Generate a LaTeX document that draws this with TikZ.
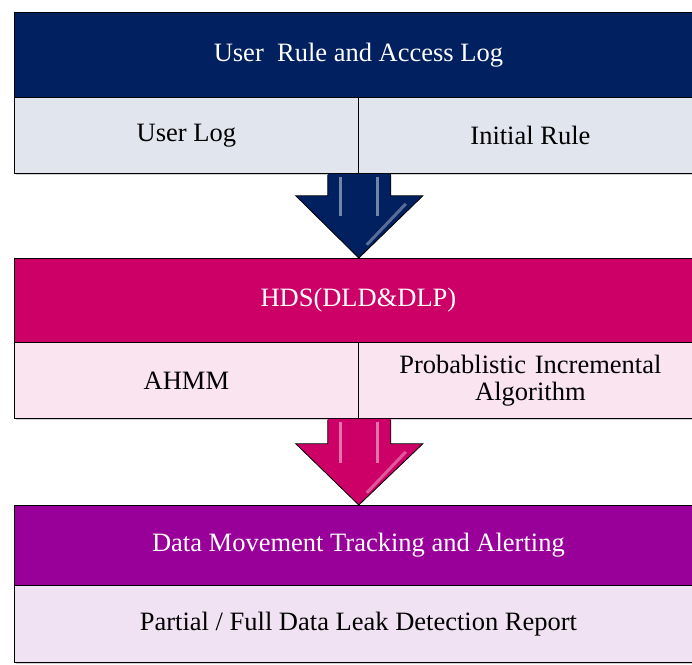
\documentclass[tikz,border=0pt]{standalone}
\usepackage{fontspec}
\setmainfont{Liberation Serif}
\usetikzlibrary{shadows,calc}
\definecolor{navy}{RGB}{0,32,96}
\definecolor{navylt}{RGB}{225,229,238}
\definecolor{pinkh}{RGB}{204,0,102}
\definecolor{pinklt}{RGB}{250,228,240}
\definecolor{purph}{RGB}{153,0,153}
\definecolor{purplt}{RGB}{240,226,242}
\begin{document}
\begin{tikzpicture}[x=1pt,y=-1pt,
  boxbase/.style={rectangle, draw=black, line width=0.8pt, inner sep=0pt, anchor=north west,
     drop shadow={shadow xshift=1.5pt, shadow yshift=-2pt, opacity=0.35}},
  hdr/.style={boxbase, minimum width=688pt, minimum height=85pt, text=white,
     font=\fontsize{26.5}{30}\selectfont},
  sub/.style={boxbase, minimum width=344pt, minimum height=76pt, text=black,
     font=\fontsize{26.5}{30}\selectfont, align=center},
  subwide/.style={boxbase, minimum width=688pt, minimum height=77pt, text=black,
     font=\fontsize{26.5}{30}\selectfont},
  bigarrow/.style={draw=black, line width=0.8pt, line join=miter},
  gloss/.style={white, opacity=0.45, line width=3pt}
]
\useasboundingbox (0,0) rectangle (692,664);
\clip (0,0) rectangle (692,664);
\fill[white] (0,0) rectangle (692,664);

% box 1
\node[hdr, fill=navy] (h1) at (14,12) {User\ \ Rule and Access Log};
\node[sub, fill=navylt] (a1) at (14,97) {User Log};
\node[sub, fill=navylt] (b1) at (358,97) {Initial Rule};

% box 2
\node[hdr, fill=pinkh, minimum height=84pt] (h2) at (14,258) {HDS(DLD\&DLP)};
\node[sub, fill=pinklt] (a2) at (14,342) {AHMM};
\node[sub, fill=pinklt, text width=330pt] (b2) at (358,342) {Probablistic Incremental\\[-3pt]Algorithm};

% box 3
\node[hdr, fill=purph, minimum height=80pt] (h3) at (14,505) {Data Movement Tracking and Alerting};
\node[subwide, fill=purplt] (a3) at (14,585) {Partial / Full Data Leak Detection Report};

% arrow 1 : from box 1 to box 2
\coordinate (s1) at (a1.south east);
\coordinate (e1) at (h2.north west -| s1);
\fill[navy] ($(s1)+(-31,0)$) -- ($(s1)+(32,0)$) -- ($(s1)+(32,22)$) -- ($(s1)+(64,22)$) -- (e1)
   -- ($(s1)+(-63,22)$) -- ($(s1)+(-31,22)$) -- cycle;
\draw[bigarrow] ($(s1)+(-31,1)$) -- ($(s1)+(-31,22)$) -- ($(s1)+(-63,22)$) -- (e1)
   -- ($(s1)+(64,22)$) -- ($(s1)+(32,22)$) -- ($(s1)+(32,1)$);
\draw[gloss] ($(s1)+(-18,3)$) -- ($(s1)+(-18,42)$);
\draw[gloss] ($(s1)+(19,3)$) -- ($(s1)+(19,42)$);
\draw[gloss, opacity=0.35] ($(s1)+(47,30)$) -- ($(s1)+(8,71)$);

% arrow 2 : from box 2 to box 3
\coordinate (s2) at (a2.south east);
\coordinate (e2) at (h3.north west -| s2);
\fill[pinkh] ($(s2)+(-31,0)$) -- ($(s2)+(32,0)$) -- ($(s2)+(32,25)$) -- ($(s2)+(64,25)$) -- (e2)
   -- ($(s2)+(-63,25)$) -- ($(s2)+(-31,25)$) -- cycle;
\draw[bigarrow] ($(s2)+(-31,1)$) -- ($(s2)+(-31,25)$) -- ($(s2)+(-63,25)$) -- (e2)
   -- ($(s2)+(64,25)$) -- ($(s2)+(32,25)$) -- ($(s2)+(32,1)$);
\draw[gloss] ($(s2)+(-18,3)$) -- ($(s2)+(-18,44)$);
\draw[gloss] ($(s2)+(19,3)$) -- ($(s2)+(19,44)$);
\draw[gloss, opacity=0.35] ($(s2)+(47,33)$) -- ($(s2)+(8,74)$);
\end{tikzpicture}
\end{document}
